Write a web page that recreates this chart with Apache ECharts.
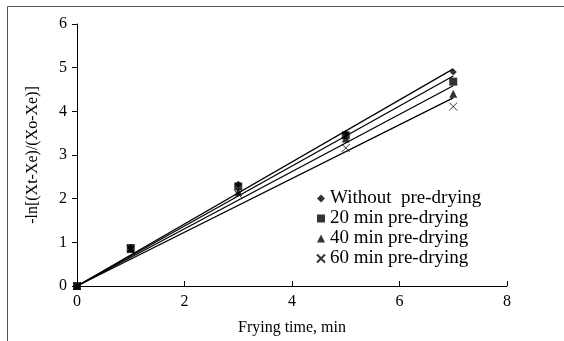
<!DOCTYPE html>
<html lang="en">
<head>
    <meta charset="UTF-8">
    <title>Frying kinetics</title>
    <script src="https://cdn.jsdelivr.net/npm/echarts@6/dist/echarts.min.js"></script>
    <style>
        html, body { margin: 0; padding: 0; background: #fff; }
        #main { width: 564px; height: 341px; }
    </style>
</head>
<body>
<div id="main"></div>
<script>
    // frying time (min)
    var times = [0, 1, 3, 5, 7];
    var seriesNames = ['Without  pre-drying', '20 min pre-drying', '40 min pre-drying', '60 min pre-drying'];
    var withoutPre = [0, 0.88, 2.33, 3.50, 4.90];
    var pre20 = [0, 0.87, 2.28, 3.45, 4.68];
    var pre40 = [0, 0.85, 2.16, 3.38, 4.40];
    var pre60 = [0, 0.84, 2.10, 3.16, 4.11];
    var xTicks = [0, 2, 4, 6, 8];
    var yTicks = [0, 1, 2, 3, 4, 5, 6];

    var font = 'Liberation Serif, Times New Roman, serif';
    var allValues = [withoutPre, pre20, pre40, pre60];
    var symbols = ['diamond', 'rect', 'triangle', 'path://M0,0L10,10M10,0L0,10'];
    var sizes = [7, 8, 8, 8];

    // linear trendline through origin
    function fitLine(vals) {
        var sxy = 0, sxx = 0;
        for (var i = 0; i < times.length; i++) {
            sxy += times[i] * vals[i];
            sxx += times[i] * times[i];
        }
        var k = sxy / sxx;
        var last = times[times.length - 1];
        return [[0, 0], [last, k * last]];
    }

    var series = [];
    allValues.forEach(function (vals, i) {
        series.push({
            name: seriesNames[i] + '_fit',
            type: 'line',
            data: fitLine(vals),
            showSymbol: false,
            silent: true,
            lineStyle: { color: '#000', width: 1.3 },
            z: 1
        });
    });
    allValues.forEach(function (vals, i) {
        var cross = i === 3;
        series.push({
            name: seriesNames[i],
            type: 'scatter',
            symbol: symbols[i],
            symbolSize: sizes[i],
            data: times.map(function (t, j) { return [t, vals[j]]; }),
            itemStyle: cross
                ? { color: 'rgba(0,0,0,0)', borderColor: '#000', borderWidth: 1 }
                : { color: '#000' },
            z: 3
        });
    });

    var myChart = echarts.init(document.getElementById('main'));
    var option = {
        animation: false,
        backgroundColor: '#fff',
        grid: { left: 77, right: 57, top: 24, bottom: 53 },
        legend: {
            data: seriesNames,
            orient: 'vertical',
            left: 311,
            top: 184,
            itemWidth: 8,
            itemHeight: 8,
            itemGap: 1,
            textStyle: { fontFamily: font, fontSize: 19, color: '#000', padding: [0, 0, 0, 0] }
        },
        graphic: [
            { type: 'line', shape: { x1: 7.5, y1: 6.5, x2: 564, y2: 6.5 }, style: { stroke: '#555', lineWidth: 1 } },
            { type: 'line', shape: { x1: 7.5, y1: 6.5, x2: 7.5, y2: 341 }, style: { stroke: '#555', lineWidth: 1 } }
        ],
        xAxis: {
            type: 'value',
            min: xTicks[0],
            max: xTicks[xTicks.length - 1],
            interval: 2,
            name: 'Frying time, min',
            nameLocation: 'middle',
            nameGap: 34,
            nameTextStyle: { fontFamily: font, fontSize: 16, color: '#000' },
            axisLine: { onZero: false, lineStyle: { color: '#000', width: 1 } },
            axisTick: { inside: true, length: 5, lineStyle: { color: '#000' } },
            axisLabel: { fontFamily: font, fontSize: 16, color: '#000', margin: 8 },
            splitLine: { show: false }
        },
        yAxis: {
            type: 'value',
            min: yTicks[0],
            max: yTicks[yTicks.length - 1],
            interval: 1,
            name: '-ln[(Xt-Xe)/(Xo-Xe)]',
            nameLocation: 'middle',
            nameGap: 36,
            nameTextStyle: { fontFamily: font, fontSize: 16, color: '#000' },
            axisLine: { show: true, lineStyle: { color: '#000', width: 1 } },
            axisTick: { show: true, length: 5, lineStyle: { color: '#000' } },
            axisLabel: { fontFamily: font, fontSize: 16, color: '#000', margin: 10 },
            splitLine: { show: false }
        },
        series: series
    };
    myChart.setOption(option);
</script>
</body>
</html>
